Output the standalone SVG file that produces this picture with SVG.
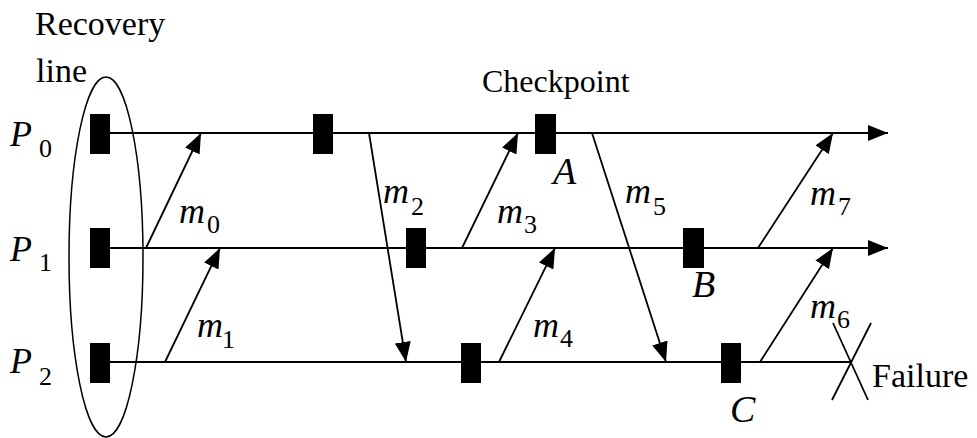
<svg xmlns="http://www.w3.org/2000/svg" width="977" height="438" viewBox="0 0 977 438">
<defs>
<marker id="ah" viewBox="0 0 20 16" refX="20" refY="8" markerWidth="20" markerHeight="16" markerUnits="userSpaceOnUse" orient="auto">
<path d="M0,0 L20,8 L0,16 z" fill="#000"/>
</marker>
</defs>
<rect width="977" height="438" fill="#fff"/>
<text x="482" y="92" font-family="Liberation Serif" font-size="32">Checkpoint</text>
<text x="35" y="35" font-family="Liberation Serif" font-size="34">Recovery</text>
<text x="36" y="82" font-family="Liberation Serif" font-size="34">line</text>
<text x="872" y="387" font-family="Liberation Serif" font-size="34">Failure</text>
<text x="10" y="146" font-family="Liberation Serif" font-style="italic" font-size="36">P</text>
<text x="39" y="157" font-family="Liberation Serif" font-size="26">0</text>
<text x="10" y="261" font-family="Liberation Serif" font-style="italic" font-size="36">P</text>
<text x="39" y="271" font-family="Liberation Serif" font-size="26">1</text>
<text x="10" y="373" font-family="Liberation Serif" font-style="italic" font-size="36">P</text>
<text x="39" y="385" font-family="Liberation Serif" font-size="26">2</text>
<text x="553" y="184" font-family="Liberation Serif" font-style="italic" font-size="38">A</text>
<text x="692" y="297" font-family="Liberation Serif" font-style="italic" font-size="38">B</text>
<text x="730" y="422" font-family="Liberation Serif" font-style="italic" font-size="38">C</text>
<text x="179" y="223" font-family="Liberation Serif" font-style="italic" font-size="36">m</text>
<text x="207" y="233" font-family="Liberation Serif" font-size="26">0</text>
<text x="197" y="337" font-family="Liberation Serif" font-style="italic" font-size="36">m</text>
<text x="222" y="348" font-family="Liberation Serif" font-size="26">1</text>
<text x="383" y="203" font-family="Liberation Serif" font-style="italic" font-size="36">m</text>
<text x="411" y="215" font-family="Liberation Serif" font-size="26">2</text>
<text x="497" y="223" font-family="Liberation Serif" font-style="italic" font-size="36">m</text>
<text x="524" y="233" font-family="Liberation Serif" font-size="26">3</text>
<text x="533" y="337" font-family="Liberation Serif" font-style="italic" font-size="36">m</text>
<text x="560" y="347" font-family="Liberation Serif" font-size="26">4</text>
<text x="625" y="203" font-family="Liberation Serif" font-style="italic" font-size="36">m</text>
<text x="653" y="215" font-family="Liberation Serif" font-size="26">5</text>
<text x="810" y="318" font-family="Liberation Serif" font-style="italic" font-size="36">m</text>
<text x="837" y="328" font-family="Liberation Serif" font-size="26">6</text>
<text x="810" y="205" font-family="Liberation Serif" font-style="italic" font-size="36">m</text>
<text x="838" y="215" font-family="Liberation Serif" font-size="26">7</text>
<g id="timelines" stroke="#000" stroke-width="2" fill="none">
<line x1="110" y1="133" x2="888" y2="133" marker-end="url(#ah)"/>
<line x1="110" y1="248" x2="888" y2="248" marker-end="url(#ah)"/>
<line x1="110" y1="362" x2="852" y2="362"/>
</g>
<g id="connectors" stroke="#000" stroke-width="1.8" fill="none">
<line x1="146" y1="248" x2="201" y2="133" marker-end="url(#ah)"/>
<line x1="165" y1="362" x2="220" y2="248" marker-end="url(#ah)"/>
<line x1="369" y1="133" x2="406" y2="362" marker-end="url(#ah)"/>
<line x1="462" y1="248" x2="518" y2="133" marker-end="url(#ah)"/>
<line x1="499" y1="362" x2="555" y2="248" marker-end="url(#ah)"/>
<line x1="592" y1="133" x2="666" y2="362" marker-end="url(#ah)"/>
<line x1="758" y1="248" x2="833" y2="133" marker-end="url(#ah)"/>
<line x1="760" y1="362" x2="833" y2="248" marker-end="url(#ah)"/>
</g>
<g id="checkpoints" fill="#000">
<rect x="90" y="114" width="20" height="40"/>
<rect x="90" y="228" width="20" height="40"/>
<rect x="90" y="343" width="20" height="40"/>
<rect x="313" y="114" width="20" height="40"/>
<rect x="535" y="114" width="21" height="40"/>
<rect x="406" y="228" width="20" height="40"/>
<rect x="683" y="228" width="21" height="40"/>
<rect x="461" y="343" width="20" height="40"/>
<rect x="721" y="343" width="20" height="40"/>
</g>
<g id="recovery-line">
<ellipse cx="106" cy="257" rx="37" ry="180" fill="none" stroke="#000" stroke-width="1.5"/>
</g>
<g id="failure" stroke="#000" stroke-width="1.8">
<line x1="833" y1="323" x2="868" y2="400"/>
<line x1="871" y1="323" x2="832" y2="400"/>
</g>
</svg>
